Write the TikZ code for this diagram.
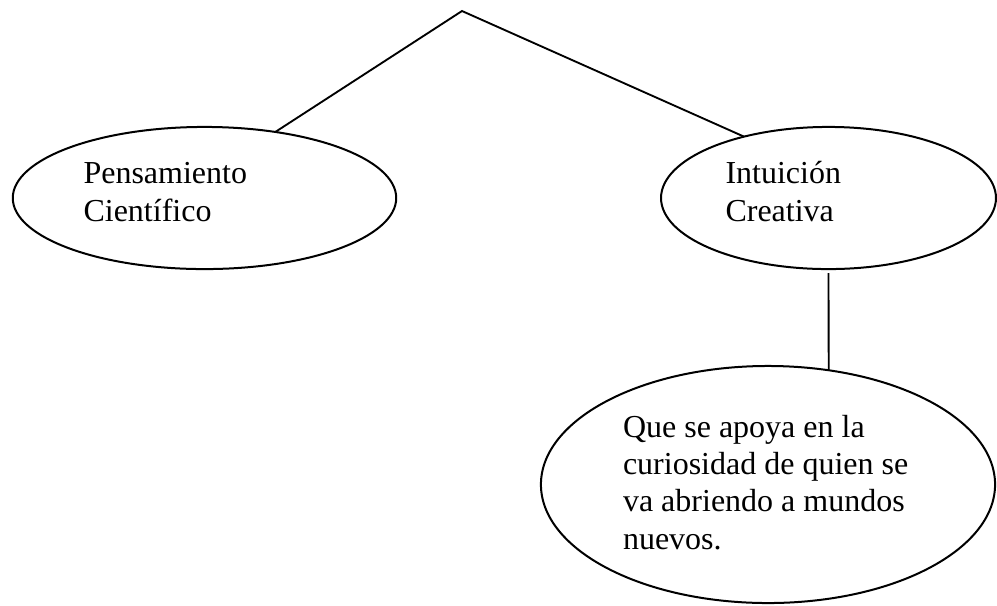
\documentclass[tikz,border=0pt]{standalone}
\usepackage{fontspec}
\setmainfont{Liberation Serif}
\usepackage{tikz}
\usetikzlibrary{
	shapes.geometric,					% Ellipse nodes
	calc								% Calculate point coordinates
}

\begin{document}
\begin{tikzpicture}[x=0.375pt, y=-0.375pt]
		\tikzstyle{bubble} = [draw, ellipse, line width=0.75pt, inner sep=0pt, outer sep=0pt]
		\tikzstyle{words} = [anchor=base west, align=left, inner sep=0pt, font=\fontsize{12pt}{13.9pt}\selectfont]
		\tikzstyle{branch} = [line width=0.7pt]
		
		\useasboundingbox (0,0) rectangle (997,605);
		
		% Ellipses
		\node[bubble, minimum width=143.8pt, minimum height=53.3pt] at (204.5, 198) (pensamiento) {};
		\node[bubble, minimum width=125.6pt, minimum height=53.3pt] at (828.5, 198) (intuicion) {};
		\node[bubble, minimum width=170.3pt, minimum height=88.9pt] at (768, 484.5) (curiosidad) {};
		
		% Texts (base = baseline of the last line)
		\node[words] at (83, 221) (pensamientoTxt) {Pensamiento\\Científico};
		\node[words] at (725, 221) (intuicionTxt) {Intuición\\Creativa};
		\node[words] at (622.5, 549) (curiosidadTxt) {Que se apoya en la\\curiosidad de quien se\\va abriendo a mundos\\nuevos.};
		
		% Branches
		\coordinate (apex) at (462, 11);
		\draw[branch] (pensamiento.43.5) -- (apex) -- (intuicion.144);
		%% Down to the last ellipse
		\draw[branch] ([yshift=-1.5pt]intuicion.south) -- (curiosidad.62.3);
	\end{tikzpicture}
\end{document}
